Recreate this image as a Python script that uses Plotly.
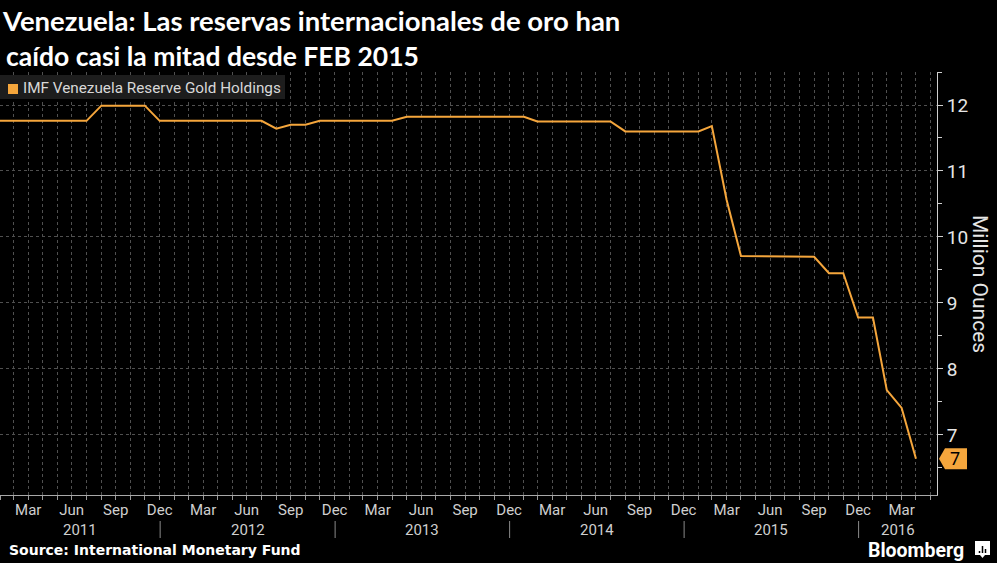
import plotly.graph_objects as go
import pandas as pd

# ---------------- data ----------------
title_line1 = "Venezuela: Las reservas internacionales de oro han"
title_line2 = "caído casi la mitad desde FEB 2015"
series_name = "IMF Venezuela Reserve Gold Holdings"
y_title = "Million Ounces"
source_text = "Source: International Monetary Fund"
brand_text = "Bloomberg"

# monthly observations (month ends), Jan 2011 .. Apr 2016
first_month = "2011-01-31"
gold_holdings = [
    11.76, 11.76, 11.76, 11.76, 11.76, 11.76, 11.76,          # Jan-Jul 2011
    11.99, 11.99, 11.99, 11.99,                               # Aug-Nov 2011
    11.76, 11.76, 11.76, 11.76, 11.76, 11.76, 11.76, 11.76,   # Dec 2011-Jul 2012
    11.64,                                                    # Aug 2012
    11.70, 11.70,                                             # Sep-Oct 2012
    11.76, 11.76, 11.76, 11.76, 11.76, 11.76,                 # Nov 2012-Apr 2013
    11.82, 11.82, 11.82, 11.82, 11.82, 11.82, 11.82, 11.82, 11.82,  # May 2013-Jan 2014
    11.75, 11.75, 11.75, 11.75, 11.75, 11.75,                 # Feb-Jul 2014
    11.60, 11.60, 11.60, 11.60, 11.60, 11.60,                 # Aug 2014-Jan 2015
    11.68,                                                    # Feb 2015
    10.56,                                                    # Mar 2015
    9.71, 9.71, 9.71,                                         # Apr-Jun 2015
    9.70, 9.70, 9.70,                                         # Jul-Sep 2015
    9.45, 9.45,                                               # Oct-Nov 2015
    8.78, 8.78,                                               # Dec 2015-Jan 2016
    7.68,                                                     # Feb 2016
    7.41,                                                     # Mar 2016
    6.64,                                                     # Apr 2016
]
month_tick_labels = ["Mar", "Jun", "Sep", "Dec"]
year_labels = ["2011", "2012", "2013", "2014", "2015", "2016"]
y_tick_values = [7, 8, 9, 10, 11, 12]

# ---------------- styling ----------------
W, H = 997, 563
ML, MR, MT, MB = 0, 60, 72, 68
PW, PH = W - ML - MR, H - MT - MB
ORANGE = "#f5a63c"
GRID = "#505050"
TICKTXT = "#cfcfcf"
x_range = ["2011-01-31", "2016-06-13"]
y_range = [6.09, 12.5]

dates = pd.date_range(first_month, periods=len(gold_holdings), freq=pd.offsets.MonthEnd(1))
month_ends = pd.date_range("2011-01-31", "2016-05-31", freq=pd.offsets.MonthEnd(1))
major = [d for d in month_ends if d.strftime("%b") in month_tick_labels]
major_text = [d.strftime("%b") for d in major]


def px_x(p):  # pixel -> paper x
    return (p - ML) / PW


def px_y(p):  # pixel -> paper y
    return (H - MB - p) / PH


fig = go.Figure()
fig.add_trace(go.Scatter(
    x=dates, y=gold_holdings, mode="lines",
    line=dict(color=ORANGE, width=2), showlegend=False, name=series_name,
))

annotations = []
shapes = []

# title
annotations.append(dict(text=f"<b>{title_line1}</b>", xref="paper", yref="paper",
                        x=px_x(0), y=px_y(21), xanchor="left", yanchor="middle",
                        showarrow=False, font=dict(family="Lato", size=27.5, color="white")))
annotations.append(dict(text=f"<b>{title_line2}</b>", xref="paper", yref="paper",
                        x=px_x(4), y=px_y(56), xanchor="left", yanchor="middle",
                        showarrow=False, font=dict(family="Lato", size=26.5, color="white")))

# legend box (series key)
shapes.append(dict(type="rect", xref="paper", yref="paper",
                   x0=px_x(-2), x1=px_x(285), y0=px_y(99), y1=px_y(75),
                   fillcolor="#1d1d1d", line=dict(width=0), layer="above"))
shapes.append(dict(type="rect", xref="paper", yref="paper",
                   x0=px_x(8), x1=px_x(18), y0=px_y(94), y1=px_y(84),
                   fillcolor=ORANGE, line=dict(width=0), layer="above"))
annotations.append(dict(
    text=series_name,
    xref="paper", yref="paper", x=px_x(21), y=px_y(88), xanchor="left", yanchor="middle",
    showarrow=False, font=dict(family="Roboto", size=15.3, color="#d8d8d8")))

# y title (reads top to bottom)
annotations.append(dict(text=y_title, xref="paper", yref="paper",
                        x=px_x(980), y=px_y(284), xanchor="center", yanchor="middle",
                        textangle=90, showarrow=False,
                        font=dict(family="Roboto", size=21, color="#e6e6e6")))

# year labels + separators
x0 = pd.Timestamp(x_range[0])
x1 = pd.Timestamp(x_range[1])
for yl in year_labels:
    ys = max(pd.Timestamp(f"{yl}-01-01"), x0)
    ye = min(pd.Timestamp(f"{int(yl)+1}-01-01"), x1)
    mid = ys + (ye - ys) / 2
    annotations.append(dict(text=yl, xref="x", yref="paper", x=mid, y=px_y(530),
                            xanchor="center", yanchor="middle", showarrow=False,
                            font=dict(family="Roboto", size=15, color=TICKTXT)))
    if pd.Timestamp(f"{yl}-01-01") > x0:
        shapes.append(dict(type="line", xref="x", yref="paper",
                           x0=pd.Timestamp(f"{yl}-01-01"), x1=pd.Timestamp(f"{yl}-01-01"),
                           y0=px_y(521), y1=px_y(538), line=dict(color="#8a8a8a", width=1)))

# last value label
last_val = gold_holdings[-1]
half = 10.5 / PH * (y_range[1] - y_range[0])
shapes.append(dict(type="path", xref="paper", yref="y",
                   path=(f"M {px_x(939)},{last_val} L {px_x(945)},{last_val + half} "
                         f"L {px_x(967)},{last_val + half} L {px_x(967)},{last_val - half} "
                         f"L {px_x(945)},{last_val - half} Z"),
                   fillcolor=ORANGE, line=dict(width=0)))
annotations.append(dict(text=f"{last_val:.0f}", xref="paper", yref="y",
                        x=px_x(955), y=last_val, xanchor="center", yanchor="middle",
                        showarrow=False, font=dict(family="Roboto", size=18, color="black")))

# source / brand
annotations.append(dict(text=f"<b>{source_text}</b>", xref="paper", yref="paper",
                        x=px_x(7), y=px_y(550), xanchor="left", yanchor="middle",
                        showarrow=False, font=dict(family="DejaVu Sans", size=14, color="white")))
annotations.append(dict(text=f"<b>{brand_text}</b>", xref="paper", yref="paper",
                        x=px_x(966), y=px_y(550), xanchor="right", yanchor="middle",
                        showarrow=False, font=dict(family="Roboto", size=19.5, color="white")))
shapes.append(dict(type="rect", xref="paper", yref="paper",
                   x0=px_x(975), x1=px_x(990), y0=px_y(555), y1=px_y(541),
                   fillcolor="white", line=dict(width=0)))
shapes.append(dict(type="path", xref="paper", yref="paper",
                   path=(f"M {px_x(980)},{px_y(555)} L {px_x(982.5)},{px_y(558)} "
                         f"L {px_x(985)},{px_y(555)} Z"),
                   fillcolor="white", line=dict(width=0)))
for bx, bt in [(979.5, 551), (982.5, 546), (985.5, 549)]:
    shapes.append(dict(type="line", xref="paper", yref="paper",
                       x0=px_x(bx), x1=px_x(bx), y0=px_y(553), y1=px_y(bt),
                       line=dict(color="black", width=1.5)))

fig.update_layout(
    width=W, height=H,
    margin=dict(l=ML, r=MR, t=MT, b=MB, autoexpand=False),
    paper_bgcolor="black", plot_bgcolor="black",
    showlegend=False,
    xaxis=dict(
        type="date", range=x_range, automargin=False,
        tickmode="array", tickvals=major, ticktext=major_text,
        tickfont=dict(family="Roboto", size=15, color=TICKTXT),
        ticks="outside", ticklen=4, tickcolor="#9a9a9a", ticklabelstandoff=-3,
        showgrid=True, gridcolor=GRID, griddash="dot", gridwidth=1,
        minor=dict(tickmode="array", tickvals=list(month_ends), ticks="outside",
                   ticklen=4, tickcolor="#9a9a9a", showgrid=True,
                   gridcolor=GRID, griddash="dot", gridwidth=1),
        showline=True, linecolor="#a8a8a8", linewidth=1, zeroline=False,
    ),
    yaxis=dict(
        side="right", range=y_range, automargin=False,
        tickmode="array", tickvals=y_tick_values,
        tickfont=dict(family="Roboto", size=19, color="#e6e6e6"),
        ticks="outside", ticklen=5, tickcolor="#cfcfcf",
        minor=dict(dtick=0.5, tick0=6.5, ticks="outside", ticklen=4,
                   tickcolor="#cfcfcf", showgrid=False),
        showgrid=True, gridcolor=GRID, griddash="dot", gridwidth=1,
        showline=True, linecolor="#cfcfcf", linewidth=1, zeroline=False,
    ),
    annotations=annotations,
    shapes=shapes,
)

fig.write_html("out.html", config={"displayModeBar": False},
               post_script="document.body.style.margin='0';")
